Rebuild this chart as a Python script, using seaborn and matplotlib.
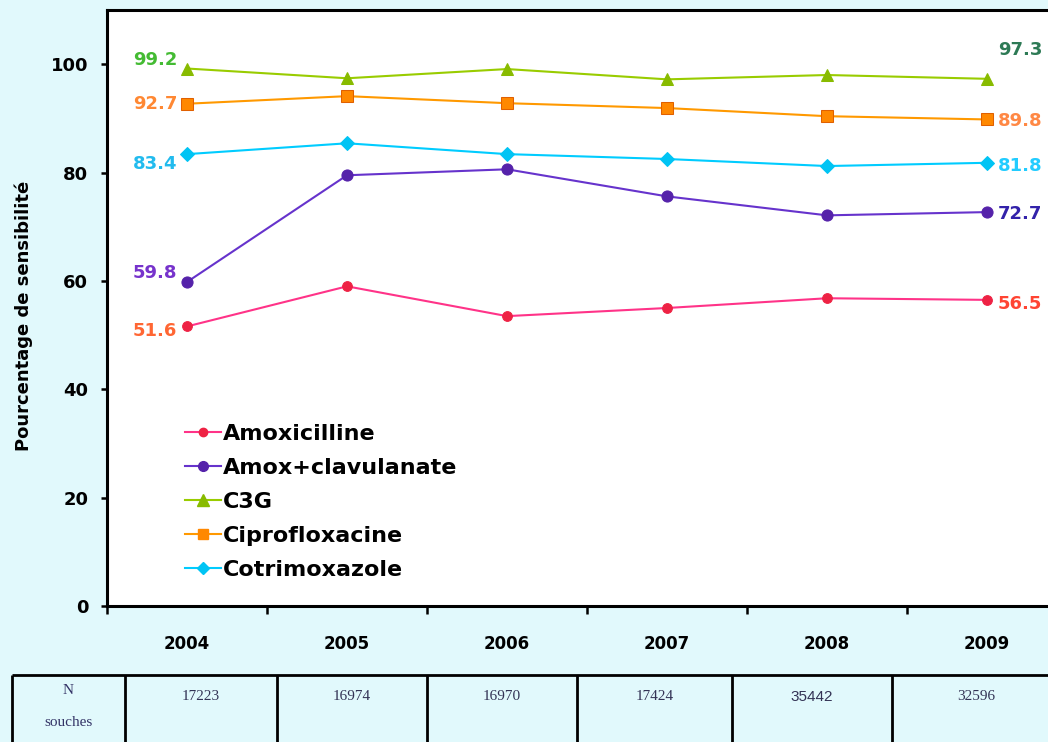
import numpy as np
import pandas as pd
import matplotlib
matplotlib.use("Agg")
import matplotlib.pyplot as plt
import seaborn as sns

# Data
years = [2004, 2005, 2006, 2007, 2008, 2009]
amoxicilline = [51.6, 59.0, 53.5, 55.0, 56.8, 56.5]
amox_clav = [59.8, 79.5, 80.6, 75.6, 72.1, 72.7]
c3g = [99.2, 97.4, 99.1, 97.2, 98.0, 97.3]
ciprofloxacine = [92.7, 94.1, 92.8, 91.9, 90.4, 89.8]
cotrimoxazole = [83.4, 85.4, 83.4, 82.5, 81.2, 81.8]
n_souches = ["17223", "16974", "16970", "17424", "35442", "32596"]

names = ["Amoxicilline", "Amox+clavulanate", "C3G", "Ciprofloxacine", "Cotrimoxazole"]
series = [amoxicilline, amox_clav, c3g, ciprofloxacine, cotrimoxazole]
line_colors = ["#ff3388", "#6633cc", "#99cc00", "#ff9900", "#00ccff"]
face_colors = ["#ee2244", "#5522aa", "#88bb00", "#ff8800", "#00c4f4"]
markers = ["o", "o", "^", "s", "D"]
msizes = [7, 8, 9, 8, 7]

# first / last value labels: colour, offset in pixels
first_lab = {"Amoxicilline": ("#ff6633", -5), "Amox+clavulanate": ("#7733cc", 9),
             "C3G": ("#44bb33", 9), "Ciprofloxacine": ("#ff8833", 0),
             "Cotrimoxazole": ("#22bbee", -10)}
last_lab = {"Amoxicilline": ("#ff4433", -4), "Amox+clavulanate": ("#3322aa", -2),
            "C3G": ("#2d7a55", 29), "Ciprofloxacine": ("#ff8844", -2),
            "Cotrimoxazole": ("#22ccff", -3)}

df = pd.DataFrame({
    "year": years * len(names),
    "value": sum(series, []),
    "antibiotic": np.repeat(names, len(years)),
})

bg = "#e1f9fc"
fig = plt.figure(figsize=(10.48, 7.42), dpi=100, facecolor=bg)
W, H = 1048, 742
ax = fig.add_axes([107 / W, 1 - 606 / H, 960 / W, 596 / H])
ax.set_facecolor("white")

sns.lineplot(data=df, x="year", y="value", hue="antibiotic", style="antibiotic",
             palette=dict(zip(names, line_colors)), markers=dict(zip(names, markers)),
             dashes=False, linewidth=1.5, ax=ax, legend=False)

for line, fc, ms in zip(ax.lines, face_colors, msizes):
    line.set_markerfacecolor(fc)
    line.set_markeredgecolor(fc)
    line.set_markersize(ms)
ax.lines[3].set_markeredgecolor("#e06000")

# value labels at both ends
px = 0.72
for name, vals in zip(names, series):
    c, dy = first_lab[name]
    ax.annotate(f"{vals[0]}", (years[0], vals[0]), xytext=(-10 * px, dy * px),
                textcoords="offset points", ha="right", va="center",
                color=c, fontsize=13, fontweight="bold")
    c, dy = last_lab[name]
    ax.annotate(f"{vals[-1]}", (years[-1], vals[-1]), xytext=(11 * px, dy * px),
                textcoords="offset points", ha="left", va="center",
                color=c, fontsize=13, fontweight="bold", annotation_clip=False)

ax.set_xlim(2003.5, 2009.5)
ax.set_ylim(0, 110)
ax.set_yticks([0, 20, 40, 60, 80, 100])
ax.set_xticks(years)
ax.set_xticks([y + 0.5 for y in [2003] + years], minor=True)
ax.tick_params(axis="x", which="major", length=0, pad=21, labelsize=12)
ax.tick_params(axis="x", which="minor", length=6, width=1.8, direction="out")
ax.tick_params(axis="y", length=4.5, width=1.8, pad=9, labelsize=13)
for lab in ax.get_xticklabels() + ax.get_yticklabels():
    lab.set_fontweight("bold")
ax.set_xlabel("")
ax.set_ylabel("Pourcentage de sensibilité", fontsize=13, fontweight="bold")
ax.yaxis.set_label_coords(-0.077, 0.487)
for s in ax.spines.values():
    s.set_color("black")
    s.set_linewidth(2.2)

handles = [plt.Line2D([], [], color=lc, marker=m, markerfacecolor=fc, markeredgecolor=fc,
                      markersize=ms - 1, linewidth=1.5)
           for lc, fc, m, ms in zip(line_colors, face_colors, markers, msizes)]
ax.legend(handles, names, loc="upper left", bbox_to_anchor=(78 / 960, 0.305),
          frameon=False, prop={"weight": "bold", "size": 16}, handlelength=1.6,
          handletextpad=0.12, labelspacing=0.63, borderpad=0, borderaxespad=0)

# table with number of strains
axt = fig.add_axes([0, 0, 1, 1])
axt.set_xlim(0, W)
axt.set_ylim(H, 0)
axt.axis("off")
axt.patch.set_alpha(0)
edges = [12, 125, 277, 427, 577, 732, 892, 1060]
top = 675
axt.hlines(top, edges[0], edges[-1], color="black", linewidth=2)
axt.vlines(edges, top, H + 10, color="black", linewidth=2)
axt.text((edges[0] + edges[1]) / 2, 690, "N", ha="center", va="center",
         family="Liberation Serif", fontsize=11, color="#333366")
axt.text((edges[0] + edges[1]) / 2, 722, "souches", ha="center", va="center",
         family="Liberation Serif", fontsize=11, color="#333366")
for i, n in enumerate(n_souches):
    fam = "Liberation Sans" if n == "35442" else "Liberation Serif"
    axt.text((edges[i + 1] + edges[i + 2]) / 2, 697, n, ha="center", va="center",
             family=fam, fontsize=11, color="#333355")

fig.savefig("out.png", dpi=100, facecolor=bg)
